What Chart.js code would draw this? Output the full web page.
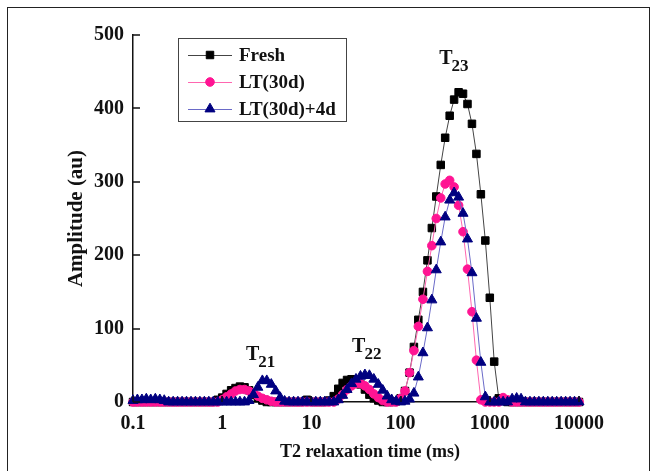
<!DOCTYPE html>
<html>
<head>
<meta charset="utf-8">
<script src="https://cdn.jsdelivr.net/npm/chart.js@4.4.0/dist/chart.umd.min.js"></script>
<style>
  html, body { margin: 0; padding: 0; background: #fff; }
  #wrap { position: relative; width: 657px; height: 471px; overflow: hidden; }
  #frame { position: absolute; left: 7px; top: 7px; width: 641px; height: 480px; border: 1.5px solid #222; }
  canvas { position: absolute; left: 0; top: 0; }
</style>
</head>
<body>
<div id="wrap"><div id="frame"></div><canvas id="nmr" width="657" height="471"></canvas></div>
<script>
/*
*  T2 relaxation spectra (NMR) - Fresh vs LT(30d) vs LT(30d)+4d
*/

const seriesNames = ['Fresh', 'LT(30d)', 'LT(30d)+4d'];

// T2 relaxation times (ms), log spaced
const t2Times = [
    0.1, 0.112, 0.126, 0.141, 0.158, 0.178, 0.2, 0.224, 0.251, 0.282,
    0.316, 0.355, 0.398, 0.447, 0.501, 0.562, 0.631, 0.708, 0.794, 0.891,
    1, 1.12, 1.26, 1.41, 1.58, 1.78, 2, 2.24, 2.51, 2.82,
    3.16, 3.55, 3.98, 4.47, 5.01, 5.62, 6.31, 7.08, 7.94, 8.91,
    10, 11.2, 12.6, 14.1, 15.8, 17.8, 20, 22.4, 25.1, 28.2,
    31.6, 35.5, 39.8, 44.7, 50.1, 56.2, 63.1, 70.8, 79.4, 89.1,
    100, 112, 126, 141, 158, 178, 200, 224, 251, 282,
    316, 355, 398, 447, 501, 562, 631, 708, 794, 891,
    1000, 1120, 1260, 1410, 1580, 1780, 2000, 2240, 2510, 2820,
    3160, 3550, 3980, 4470, 5010, 5620, 6310, 7080, 7940, 8910,
    10000];

const freshAmp = [
    0, 0, 0, 0, 0, 0, 0, 0, 0, 0,
    0, 0, 0, 0, 0, 0, 0, 0, 0, 3,
    6, 11, 16, 19, 21, 20, 16, 10, 5, 2,
    0, 0, 0, 0, 0, 0, 0, 0, 0, 3,
    0, 0, 0, 0, 2, 8, 18, 26, 30, 31,
    29, 24, 17, 10, 5, 2, 0, 0, 0, 1,
    5, 15, 40, 75, 112, 150, 193, 237, 280, 323,
    360, 390, 412, 422, 420, 406, 379, 338, 283, 220,
    142, 55, 5, 3, 0, 0, 0, 0, 0, 0,
    0, 0, 0, 0, 0, 0, 0, 0, 0, 0,
    0];

const lt30Amp = [
    0, 0, 0, 0, 0, 0, 0, 0, 0, 0,
    0, 0, 0, 0, 0, 0, 0, 0, 0, 0,
    3, 7, 11, 15, 17, 17, 15, 12, 8, 5,
    3, 1, 0, 0, 0, 0, 0, 0, 0, 0,
    0, 0, 0, 0, 0, 0, 4, 10, 17, 22,
    25, 25, 22, 17, 11, 6, 2, 0, 0, 0,
    5, 15, 40, 70, 103, 140, 178, 213, 250, 278,
    297, 302, 293, 268, 232, 181, 123, 57, 3, 0,
    0, 0, 0, 6, 3, 0, 0, 0, 0, 0,
    0, 0, 0, 0, 0, 0, 0, 0, 0, 0,
    0];

const lt30p4Amp = [
    2, 3, 3, 4, 3, 4, 3, 2, 0, 0,
    0, 0, 0, 0, 0, 0, 0, 0, 0, 0,
    0, 0, 0, 0, 0, 0, 2, 10, 20, 29,
    29, 24, 15, 6, 1, 0, 0, 0, 0, 0,
    0, 0, 0, 0, 0, 0, 3, 9, 17, 25,
    31, 35, 37, 36, 31, 24, 16, 8, 3, 1,
    0, 1, 4, 12, 34, 67, 101, 139, 180, 218,
    252, 275, 285, 279, 257, 222, 176, 114, 54, 7,
    0, 0, 0, 0, 0, 4, 5, 4, 0, 0,
    0, 0, 0, 0, 0, 0, 0, 0, 0, 0,
    0];

const xTickValues = [0.1, 1, 10, 100, 1000, 10000];
const xTickLabels = ['0.1', '1', '10', '100', '1000', '10000'];
const yTickValues = [0, 100, 200, 300, 400, 500];

const xTitle = 'T2 relaxation time (ms)';
const yTitle = 'Amplitude (au)';

// peak names, anchored at (T2, amplitude) of the left of the "T"
const peakNames = [['21', 1.85, 57], ['22', 28.6, 68], ['23', 271, 460]];

const serif = '"Liberation Serif", "Times New Roman", serif';

function toPoints(ys) {
    return t2Times.map((t, i) => ({x: t, y: ys[i]}));
}

// inward tick marks on both axes + x title (sits right of centre in the original)
const innerTicks = {
    id: 'innerTicks',
    afterDraw(chart) {
        const {ctx} = chart;
        const xs = chart.scales.x, ys = chart.scales.y;
        ctx.save();
        ctx.strokeStyle = '#111';
        ctx.lineWidth = 1.5;
        ctx.beginPath();
        yTickValues.forEach((v) => {
            let py = Math.round(ys.getPixelForValue(v));
            ctx.moveTo(xs.left, py); ctx.lineTo(xs.left + 7, py);
        });
        xTickValues.forEach((v) => {
            let px = Math.round(xs.getPixelForValue(v));
            ctx.moveTo(px, ys.bottom); ctx.lineTo(px, ys.bottom - 6);
        });
        ctx.stroke();
        ctx.fillStyle = '#111';
        ctx.font = 'bold 18px ' + serif;
        ctx.textAlign = 'center';
        ctx.textBaseline = 'middle';
        ctx.fillText(xTitle, (xs.left + xs.right) / 2 + 14, xs.bottom - 19);
        ctx.restore();
    }
};

const peakLabels = {
    id: 'peakLabels',
    afterDatasetsDraw(chart) {
        const {ctx} = chart;
        ctx.save();
        ctx.fillStyle = '#111';
        ctx.textBaseline = 'alphabetic';
        peakNames.forEach(([sub, t, a]) => {
            let px = chart.scales.x.getPixelForValue(t);
            let py = chart.scales.y.getPixelForValue(a);
            ctx.font = 'bold 20px ' + serif;
            ctx.fillText('T', px, py);
            let w = ctx.measureText('T').width;
            ctx.font = 'bold 17px ' + serif;
            ctx.fillText(sub, px + w - 1, py + 7);
        });
        ctx.restore();
    }
};

const legendBox = {
    id: 'legendBox',
    afterDraw(chart) {
        const {ctx, chartArea} = chart;
        let x0 = chartArea.left + 45, y0 = chartArea.top + 3;
        ctx.save();
        ctx.fillStyle = '#fff';
        ctx.fillRect(x0, y0, 168, 83);
        ctx.strokeStyle = '#444';
        ctx.lineWidth = 1;
        ctx.strokeRect(x0 + 0.5, y0 + 0.5, 168, 83);
        ctx.font = 'bold 19px ' + serif;
        ctx.textBaseline = 'middle';
        seriesNames.forEach((name, i) => {
            let ds = chart.data.datasets[i];
            let y = y0 + 17 + i * 27;
            ctx.strokeStyle = ds.borderColor;
            ctx.lineWidth = 1;
            ctx.beginPath(); ctx.moveTo(x0 + 10, y + 0.5); ctx.lineTo(x0 + 54, y + 0.5); ctx.stroke();
            ctx.fillStyle = ds.pointBackgroundColor;
            ctx.strokeStyle = ds.pointBorderColor;
            Chart.helpers.drawPoint(ctx, {pointStyle: ds.pointStyle, radius: ds.pointRadius, borderWidth: ds.pointBorderWidth, rotation: 0}, x0 + 32, y);
            ctx.fillStyle = '#111';
            ctx.fillText(name, x0 + 61, y + 1);
        });
        ctx.restore();
    }
};

function makeDataset(label, ys, lineColor, markColor, style, radius, order) {
    return {
        label: label,
        data: toPoints(ys),
        borderColor: lineColor,
        borderWidth: 1,
        pointStyle: style,
        pointRadius: radius,
        pointBorderWidth: 1,
        pointBackgroundColor: markColor,
        pointBorderColor: markColor,
        tension: 0,
        clip: false,
        order: order,
    };
}

const chartConfig = {
    type: 'line',
    data: {
        datasets: [
            makeDataset(seriesNames[0], freshAmp, '#444444', '#000000', 'rect', 5.3, 2),
            makeDataset(seriesNames[1], lt30Amp, '#ff66b0', '#ff1493', 'circle', 4.3, 1),
            makeDataset(seriesNames[2], lt30p4Amp, '#6a6ac8', '#000080', 'triangle', 5.8, 0),
        ],
    },
    options: {
        responsive: false,
        animation: false,
        events: [],
        layout: { padding: {left: 0, right: 78, top: 35, bottom: 0} },
        scales: {
            x: {
                type: 'logarithmic',
                min: 0.1,
                max: 10000,
                afterBuildTicks: (s) => { s.ticks = xTickValues.map((v) => ({value: v})); },
                afterFit: (s) => { s.height = 69; },
                grid: {display: false, drawTicks: false},
                border: {display: true, color: '#111', width: 1.5},
                ticks: {
                    color: '#111', padding: 10, maxRotation: 0, autoSkip: false,
                    font: {family: serif, size: 20, weight: 'bold'},
                    callback: (v, idx) => xTickLabels[idx],
                },
            },
            y: {
                min: 0,
                max: 500,
                afterBuildTicks: (s) => { s.ticks = yTickValues.map((v) => ({value: v})); },
                afterFit: (s) => { s.width = 133; },
                grid: {display: false, drawTicks: false},
                border: {display: true, color: '#111', width: 1.5},
                ticks: {
                    color: '#111', padding: 9,
                    font: {family: serif, size: 20, weight: 'bold'},
                },
                title: {
                    display: true, text: yTitle, color: '#111',
                    font: {family: serif, size: 21, weight: 'bold'},
                    padding: {top: 64, bottom: 0},
                },
            },
        },
        plugins: {
            legend: {display: false},
            tooltip: {enabled: false},
        },
    },
    plugins: [innerTicks, peakLabels, legendBox],
};

const nmrChart = new Chart(document.getElementById('nmr'), chartConfig);
</script>
</body>
</html>
